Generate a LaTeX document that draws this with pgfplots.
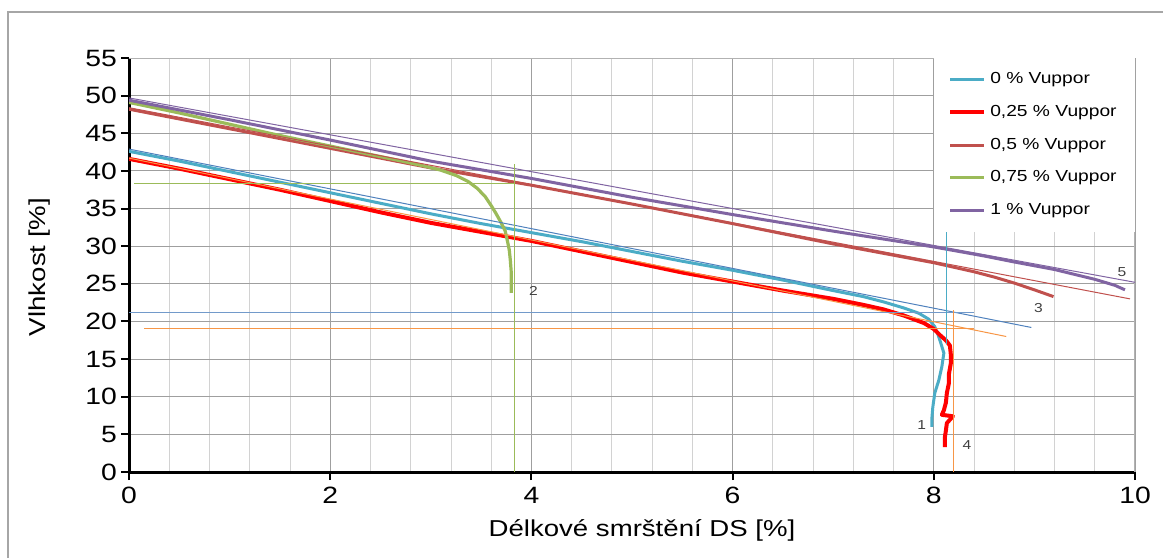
\documentclass[border=0pt]{standalone}
\usepackage{fontspec}
\setmainfont{Liberation Sans}[FakeStretch=1.2]
\usepackage{pgfplots}
\pgfplotsset{compat=1.18}
\definecolor{cteal}{HTML}{4BACC6}
\definecolor{cred}{HTML}{FF0000}
\definecolor{cdred}{HTML}{C0504D}
\definecolor{cgreen}{HTML}{9BBB59}
\definecolor{cpurple}{HTML}{8064A2}
\definecolor{cblue}{HTML}{4F81BD}
\definecolor{corange}{HTML}{F79646}
\begin{document}
\begin{tikzpicture}[x=1pt,y=1pt]
\path[use as bounding box] (0,0) rectangle (581.5,279);
\draw[gray!70, line width=0.6pt] (4,0) -- (4,273) -- (581.5,273);
\node[font=\fontsize{11.5}{13}\selectfont] at (321,14) {Délkové smrštění DS [\%]};
\node[rotate=90, font=\fontsize{11.5}{13}\selectfont] at (20,145.5) {Vlhkost [\%]};
\begin{axis}[
  at={(64.5pt,43pt)}, anchor=south west,
  width=503pt, height=207pt, scale only axis,
  xmin=0, xmax=10, ymin=0, ymax=55,
  xtick={0,2,...,10}, ytick={0,5,...,55},
  minor x tick num=4,
  grid=both,
  major grid style={draw=gray!75, line width=0.5pt},
  minor grid style={draw=gray!35, line width=0.4pt},
  axis lines=left,
  axis line style={line width=1.5pt, -},
  tick align=outside, major tick length=4pt, minor tick length=0pt,
  tick style={black, line width=1pt},
  ticklabel style={font=\fontsize{11.8}{13}\selectfont},
  yticklabel style={xshift=1.5pt},
  /pgf/number format/assume math mode=true,
  legend style={at={(rel axis cs:1,1)}, anchor=north east, draw=none, fill=white,
    font=\fontsize{8}{9.5}\selectfont, row sep=5.3pt, inner xsep=7pt, inner ysep=5pt},
  legend cell align=left,
  line join=round,
]
\draw[gray!60, line width=0.6pt] (rel axis cs:0,1) -- (rel axis cs:1,1) -- (rel axis cs:1,0);

\addplot[cteal, line width=1.5pt] coordinates {
(0,42.6) (0.5,41.3) (1,39.9) (1.5,38.5) (2,37.1) (2.5,35.7) (3,34.3) (3.5,33.0) (4,31.8) (4.5,30.6) (5,29.3) (5.5,28.0) (6,26.8) (6.5,25.5) (7,24.1) (7.3,23.3) (7.5,22.6) (7.7,21.8) (7.85,21.1) (7.95,20.3) (8.01,19.3) (8.04,18.3) (8.07,17.1) (8.1,15.8) (8.08,14.0) (8.05,12.2) (8.01,10.5) (7.99,8.6) (7.98,7.0) (7.98,6.0)};
\addlegendentry{0 \% Vuppor}

\addplot[cred, line width=2pt] coordinates {
(0,41.6) (0.5,40.3) (1,38.9) (1.5,37.5) (2,36.0) (2.5,34.5) (3,33.1) (3.5,31.9) (4,30.7) (4.5,29.3) (5,27.9) (5.5,26.5) (6,25.3) (6.5,24.1) (7,23.0) (7.3,22.2) (7.5,21.6) (7.7,20.8) (7.9,19.8) (8.0,19.0) (8.06,18.2) (8.12,17.5) (8.16,16.8) (8.17,15.5) (8.17,14.5) (8.15,13.0) (8.15,11.8) (8.13,10.5) (8.12,9.2) (8.1,8.2) (8.08,7.6) (8.19,7.4) (8.15,6.8) (8.13,6.5) (8.12,5.5) (8.11,4.6) (8.11,3.3)};
\addlegendentry{0,25 \% Vuppor}

\addplot[cdred, line width=1.5pt] coordinates {
(0,48.2) (1,45.6) (2,43.0) (3,40.4) (4,38.1) (5,35.6) (6,33.0) (7,30.3) (8,27.8) (8.4,26.6) (8.6,25.9) (8.8,25.1) (9.0,24.2) (9.19,23.3)};
\addlegendentry{0,5 \% Vuppor}

\addplot[cgreen, line width=1.6pt] coordinates {
(0,49.1) (0.5,47.7) (1,46.2) (1.5,44.7) (2,43.3) (2.5,41.9) (2.75,41.2) (2.95,40.6) (3.1,40.1) (3.25,39.4) (3.37,38.6) (3.46,37.7) (3.54,36.6) (3.6,35.4) (3.65,34.3) (3.7,33.1) (3.74,32.0) (3.76,30.8) (3.78,29.5) (3.79,28.2) (3.80,26.5) (3.80,25.0) (3.80,23.8)};
\addlegendentry{0,75 \% Vuppor}

\addplot[cpurple, line width=1.5pt] coordinates {
(0,49.4) (1,46.8) (2,44.1) (3,41.3) (4,39.0) (5,36.5) (6,34.2) (7,32.0) (8,29.9) (8.5,28.7) (8.8,27.9) (9.2,26.9) (9.6,25.6) (9.8,24.8) (9.9,24.2)};
\addlegendentry{1 \% Vuppor}

\addplot[cpurple, line width=0.5pt, forget plot] coordinates {(0,49.7) (10,25.2)};
\addplot[cdred, line width=0.5pt, forget plot] coordinates {(0,48.4) (9.95,23.0)};
\addplot[cblue, line width=0.5pt, forget plot] coordinates {(0,42.9) (8.97,19.2)};
\addplot[corange, line width=0.5pt, forget plot] coordinates {(0,41.7) (8.72,18.0)};
\addplot[cblue!80, line width=0.5pt, forget plot] coordinates {(0,21.2) (8.4,21.2)};
\addplot[corange, line width=0.5pt, forget plot] coordinates {(0.15,19.0) (8.4,19.0)};
\addplot[cteal, line width=0.5pt, forget plot] coordinates {(8.13,33.6) (8.13,17.0)};
\addplot[corange, line width=0.5pt, forget plot] coordinates {(8.2,21.5) (8.2,0)};
\addplot[cgreen, line width=0.5pt, forget plot] coordinates {(3.83,40.9) (3.83,0)};
\addplot[cgreen, line width=0.5pt, forget plot] coordinates {(0.05,38.3) (3.83,38.3)};

\node[font=\fontsize{6.5}{8}\selectfont, text=black!75] at (axis cs:7.88,6.2) {1};
\node[font=\fontsize{6.5}{8}\selectfont, text=black!75] at (axis cs:4.02,24.0) {2};
\node[font=\fontsize{6.5}{8}\selectfont, text=black!75] at (axis cs:9.04,21.8) {3};
\node[font=\fontsize{6.5}{8}\selectfont, text=black!75] at (axis cs:8.33,3.6) {4};
\node[font=\fontsize{6.5}{8}\selectfont, text=black!75] at (axis cs:9.87,26.6) {5};
\end{axis}
\end{tikzpicture}
\end{document}
